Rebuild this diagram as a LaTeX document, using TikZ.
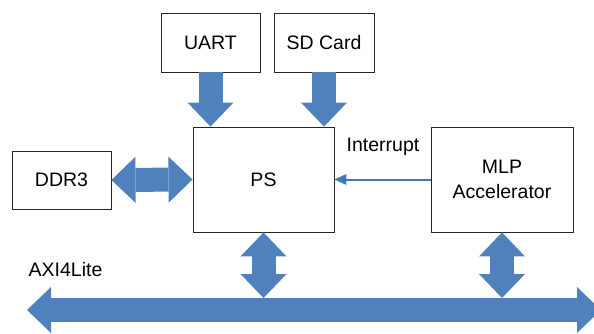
\documentclass[tikz,border=0pt]{standalone}
\usepackage{fontspec}
\setmainfont{Liberation Sans}
\usetikzlibrary{arrows.meta}
\definecolor{fatblue}{HTML}{4F81BD}
\definecolor{irqblue}{HTML}{3E78B8}
\tikzset{
	block/.style={draw=black!85, line width=0.9pt, inner sep=0pt, align=center,
		font=\fontsize{19.5pt}{25pt}\selectfont},
	label/.style={inner sep=0pt, font=\fontsize{19.5pt}{25pt}\selectfont},
	fathead/.tip={Triangle[width=46pt,length=24pt,line width=0pt]},
	fat/.style={draw=fatblue, line width=24pt},
	irq/.style={draw=irqblue, line width=2pt, -{Triangle[width=11pt,length=12pt,line width=0pt]}}
}
\begin{document}
\begin{tikzpicture}[x=1pt,y=-1pt]
	\useasboundingbox (0,0) rectangle (594,333);
	\node[block, minimum width=99pt, minimum height=59pt] (uart) at (210.5,42.5) {UART};
	\node[block, minimum width=100pt, minimum height=59pt] (sd) at (324,42.5) {SD Card};
	\node[block, minimum width=141pt, minimum height=105pt] (ps) at (263.5,179.5) {PS};
	\node[block, minimum width=99pt, minimum height=58pt] (ddr) at (61.5,180) {DDR3};
	\node[block, minimum width=142pt, minimum height=105pt] (mlp) at (502,179.5) {MLP\\Accelerator};
	\node[label] (irqlabel) at (383,147) {Interrupt};
	\node[label] (axilabel) at (65.5,270) {AXI4Lite};
	\coordinate (busl) at (27,310);
	\coordinate (busr) at (601,310);
	\coordinate (bustop) at (0,298);
	\draw[fat, -fathead] (uart.south) -- (uart.south |- ps.north);
	\draw[fat, -fathead] (sd.south) -- (sd.south |- ps.north);
	\draw[fat, fathead-fathead] (ddr.east) -- (ps.west);
	\draw[fat, fathead-fathead] (ps.south) -- (ps.south |- bustop);
	\draw[fat, fathead-fathead] (mlp.south) -- (mlp.south |- bustop);
	\draw[fat, fathead-fathead] (busl) -- (busr);
	\draw[irq] (mlp.west) -- (ps.east);
\end{tikzpicture}
\end{document}
